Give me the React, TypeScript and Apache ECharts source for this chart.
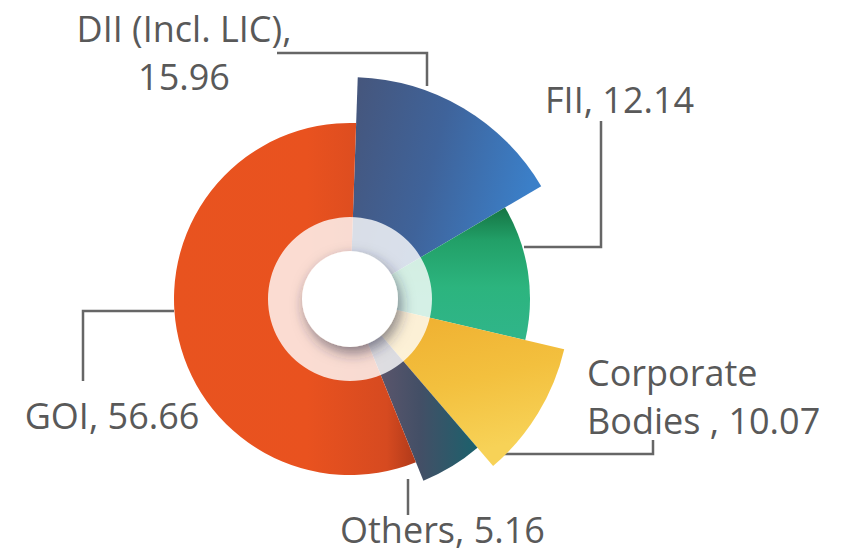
import React, { useEffect, useRef } from "react";
import * as echarts from "echarts";

// ---- data ----
const categories = ["DII (Incl. LIC)", "FII", "Corporate Bodies", "Others", "GOI"];
const values = [15.96, 12.14, 10.07, 5.16, 56.66];
const labelPrefixes = ["DII (Incl. LIC),\n", "FII, ", "Corporate\nBodies , ", "Others, ", "GOI, "];

// ---- styling ----
const CX = 350;
const CY = 299;
const sliceRadius = [222, 180, 220, 196, 176];
const START_ANGLE = 88;

const grad = (x1: number, y1: number, x2: number, y2: number, stops: [number, string][]) =>
  new echarts.graphic.LinearGradient(
    x1, y1, x2, y2,
    stops.map(([offset, color]) => ({ offset, color }))
  );

const sliceColors = [
  grad(0, 0, 1, 0.3, [[0, "#46557a"], [0.5, "#3f639a"], [1, "#3b7fc8"]]),
  grad(0, 0, 0, 1, [[0, "#157443"], [0.25, "#22a068"], [0.6, "#2cb47e"], [1, "#30b58a"]]),
  grad(0, 0, 0.3, 1, [[0, "#eeaa2c"], [0.6, "#f3c03e"], [1, "#f7d257"]]),
  grad(0, 0, 1, 0, [[0, "#6c5a70"], [0.55, "#434f66"], [1, "#1b616c"]]),
  grad(0, 0, 1, 0, [[0, "#e8531f"], [0.55, "#e9521f"], [0.88, "#d64a20"], [1, "#b03a1a"]]),
];

const labelLayouts: any[] = [
  { x: 184, y: 52, align: "center", verticalAlign: "middle", labelLinePoints: [[427, 86], [427, 53], [277, 53]] },
  { x: 545, y: 99, align: "left", verticalAlign: "middle", labelLinePoints: [[524, 247], [601, 247], [601, 121]] },
  { x: 587, y: 396, align: "left", verticalAlign: "middle", labelLinePoints: [[503, 454], [653, 454], [653, 440]] },
  { x: 340, y: 529, align: "left", verticalAlign: "middle", labelLinePoints: [[408, 479], [408, 497], [408, 515]] },
  { x: 112, y: 415, align: "center", verticalAlign: "middle", labelLinePoints: [[174, 311], [83, 311], [83, 381]] },
];

const TEXT_COLOR = "#595959";

export default function App() {
  const ref = useRef<HTMLDivElement>(null);
  useEffect(() => {
    if (!ref.current) return;
    const chart = echarts.init(ref.current, undefined, { renderer: "svg" });

    const sliceSeries = categories.map((_, i) => ({
      type: "pie",
      center: [CX, CY],
      radius: [0, sliceRadius[i]],
      startAngle: START_ANGLE,
      clockwise: true,
      silent: true,
      avoidLabelOverlap: false,
      z: 2,
      data: categories.map((name, j) => ({
        name,
        value: values[j],
        itemStyle:
          j === i
            ? { color: sliceColors[i], borderWidth: 0 }
            : { color: "rgba(0,0,0,0)", borderWidth: 0 },
        label:
          j === i
            ? {
                show: true,
                position: "outside",
                formatter: () => labelPrefixes[j] + values[j].toFixed(2),
                fontFamily: "Open Sans",
                fontSize: 36,
                lineHeight: 48,
                color: TEXT_COLOR,
              }
            : { show: false },
        labelLine:
          j === i
            ? { show: true, lineStyle: { color: "#666666", width: 2.5 } }
            : { show: false },
      })),
      labelLayout: (p: any) => labelLayouts[p.dataIndex],
    }));

    const option: any = {
      animation: false,
      backgroundColor: "#ffffff",
      series: [
        ...sliceSeries,
        {
          type: "pie",
          center: [CX, CY],
          radius: [0, 82],
          silent: true,
          z: 5,
          label: { show: false },
          labelLine: { show: false },
          data: [{ value: 1, itemStyle: { color: "rgba(255,255,255,0.8)" } }],
        },
        {
          type: "pie",
          center: [CX, CY],
          radius: [0, 48],
          silent: true,
          z: 6,
          label: { show: false },
          labelLine: { show: false },
          data: [
            {
              value: 1,
              itemStyle: {
                color: "#ffffff",
                shadowBlur: 14,
                shadowOffsetX: 3,
                shadowOffsetY: 6,
                shadowColor: "rgba(40,40,60,0.55)",
              },
            },
          ],
        },
      ],
    };
    chart.setOption(option);
    return () => chart.dispose();
  }, []);
  return <div ref={ref} style={{ width: 847, height: 553, position: "absolute", left: 0, top: 0 }} />;
}
